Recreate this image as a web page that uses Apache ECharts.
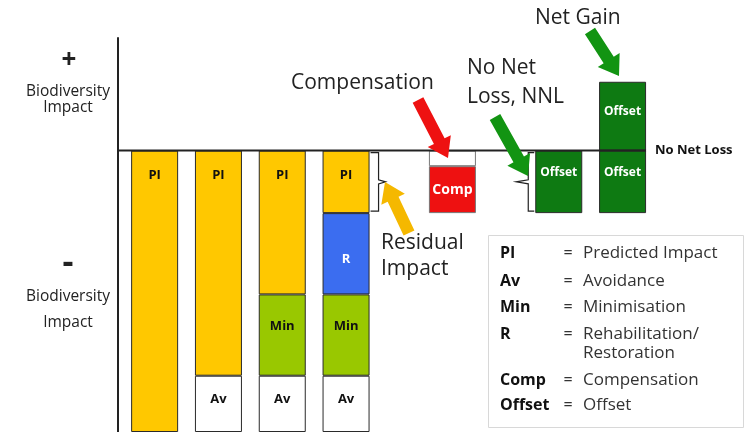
<!DOCTYPE html>
<html><head><meta charset="utf-8">
<script src="https://cdn.jsdelivr.net/npm/echarts@6/dist/echarts.min.js"></script>
<style>html,body{margin:0;padding:0;background:#fff}#c{width:755px;height:432px}</style>
</head><body><div id="c"></div>
<script>
// Stages of the mitigation hierarchy
const stages = ['Predicted Impact','Avoidance','Minimisation','Rehabilitation','Compensation','No Net Loss','Net Gain'];
// Category slots (blank strings are spacers between stages)
const categories = ['Predicted Impact','','','Avoidance','','','Minimisation','','','Rehabilitation','','','','','Compensation','','','','','No Net Loss','','','Net Gain'];
// Values per stage (negative = biodiversity loss)
const predictedImpact = [-45,-36,-23,-10,null,null,null];
const restoration     = [null,null,null,-13,null,null,null];
const minimisation    = [null,null,-13,-13,null,null,null];
const avoidance       = [null,-9,-9,-9,null,null,null];
const compensationGap = [null,null,null,null,-2.5,null,null];
const compensation    = [null,null,null,null,-7.5,null,null];
const offsetLoss      = [null,null,null,null,null,-10,-10];
const offsetGain      = [null,null,null,null,null,null,11];
const yMin = -45, yMax = 18;
const legendKeys  = ['PI','Av','Min','R','Comp','Offset'];
const legendDescs = ['Predicted Impact','Avoidance','Minimisation','Rehabilitation/\nRestoration','Compensation','Offset'];

const FONT = "'Open Sans', 'Noto Sans', sans-serif";
function toSlots(arr){ return categories.map(c => { const i = stages.indexOf(c); return i >= 0 ? arr[i] : null; }); }

const chart = echarts.init(document.getElementById('c'), null, {renderer:'canvas'});
const border = {borderColor:'#2a2a2a', borderWidth:1};
function lab(text, color, pos, dist, size, extra){
  return Object.assign({show:true, formatter:text, position:pos, distance:dist, color:color,
    fontFamily:FONT, fontWeight:'bold', fontSize:size||13}, extra||{});
}
const BW = 47;
function bar(name, arr, style, label, w){
  const o = {name:name, type:'bar', stack:'s', clip:false, barWidth:w||BW, barMinWidth:w||BW, barMaxWidth:w||BW,
    data:toSlots(arr), itemStyle:style};
  if (label) o.label = label;
  return o;
}
const option = {
  animation:false,
  backgroundColor:'#fff',
  grid:{left:144, right:121.8, top:38, bottom:0},
  xAxis:{type:'category', data:categories, axisLine:{show:false}, axisTick:{show:false}, axisLabel:{show:false}, splitLine:{show:false}},
  yAxis:{type:'value', min:yMin, max:yMax, offset:26,
    axisLine:{show:true, onZero:false, lineStyle:{color:'#222', width:2}},
    axisTick:{show:false}, axisLabel:{show:false}, splitLine:{show:false}},
  series:[
    bar('PI', predictedImpact, Object.assign({color:'#FFC800'}, border), lab('PI','#111','insideTop',18)),
    bar('R', restoration, Object.assign({color:'#3B6DF0'}, border), lab('R','#fff','insideTop',40)),
    bar('Min', minimisation, Object.assign({color:'#99C800'}, border), lab('Min','#111','insideTop',25)),
    bar('Av', avoidance, Object.assign({color:'#ffffff'}, border), lab('Av','#111','insideTop',17)),
    bar('CompGap', compensationGap, {color:'#ffffff', borderColor:'#777', borderWidth:1}, null, 53),
    bar('Comp', compensation, {color:'#EE1111', borderColor:'#777', borderWidth:1}, lab('Comp','#fff','inside',0,14), 53),
    bar('OffsetLoss', offsetLoss, Object.assign({color:'#0E7A12'}, border), lab('Offset','#fff','insideTop',16,12)),
    bar('OffsetGain', offsetGain, Object.assign({color:'#0E7A12'}, border), lab('Offset','#fff','inside',0,12,{offset:[0,-5]}))
  ]
};
chart.setOption(option);

// ---------- annotations ----------
function arrow(tx,ty,px,py,sw,hw,hl,color){
  const dx=px-tx, dy=py-ty, L=Math.hypot(dx,dy), ux=dx/L, uy=dy/L, nx=-uy, ny=ux;
  const bx=px-ux*hl, by=py-uy*hl;
  return {type:'polygon', z:10, shape:{points:[
    [tx+nx*sw/2,ty+ny*sw/2],[bx+nx*sw/2,by+ny*sw/2],[bx+nx*hw/2,by+ny*hw/2],[px,py],
    [bx-nx*hw/2,by-ny*hw/2],[bx-nx*sw/2,by-ny*sw/2],[tx-nx*sw/2,ty-ny*sw/2]]}, style:{fill:color}};
}
function txt(t,x,y,size,opts){
  return {type:'text', z:10, x:x, y:y, style:{text:t, font:(opts&&opts.bold?'bold ':'')+size+'px '+FONT,
    fill:(opts&&opts.fill)||'#222', align:(opts&&opts.align)||'left', verticalAlign:'middle'}};
}
const px = (i,v) => chart.convertToPixel({gridIndex:0}, [i,v]);
const iRehab = categories.indexOf('Rehabilitation');
const iNNL = categories.indexOf('No Net Loss');
const iGain = categories.indexOf('Net Gain');
const zero = px(0,0)[1];
const yAxisX = 144 - 26;
const gainRight = px(iGain,0)[0] + BW/2;
const g = [];
// zero line (No Net Loss baseline)
g.push({type:'line', z:5, shape:{x1:yAxisX, y1:zero, x2:gainRight, y2:zero}, style:{stroke:'#222', lineWidth:2}});
// residual brace
{
  const right = px(iRehab,0)[0] + BW/2;
  const yb = px(iRehab, predictedImpact[3])[1];
  const x0 = right + 1, x1 = right + 9, ym = (zero+yb)/2;
  g.push({type:'polyline', z:10, shape:{points:[[x0,zero+2],[x1,zero+2],[x1,ym-2],[x1+7,ym],[x1,ym+2],[x1,yb-2],[x0,yb-2]]}, style:{stroke:'#222', lineWidth:1.2, fill:null}});
}
// NNL brace
{
  const left = px(iNNL,0)[0] - BW/2;
  const yb = px(iNNL, offsetLoss[5])[1];
  const x0 = left - 1, x1 = left - 7, ym = (zero+yb)/2;
  g.push({type:'polyline', z:10, shape:{points:[[x0,zero+2],[x1,zero+2],[x1,ym-2],[x1-12,ym],[x1,ym+2],[x1,yb-2],[x0,yb-2]]}, style:{stroke:'#222', lineWidth:1.2, fill:null}});
}
// arrows
g.push(arrow(418,100,448,158,12,26,19,'#EE1111'));
g.push(arrow(495,117,528,176,12,26,19,'#129412'));
g.push(arrow(590,31,619,76,12,26,19,'#129412'));
g.push(arrow(409,233,385,182,12,26,19,'#F5B800'));
// left axis labels
g.push(txt('+',69,61,26,{bold:true,align:'center'}));
g.push(txt('Biodiversity',68,92,15.5,{align:'center'}));
g.push(txt('Impact',68,108,15.5,{align:'center'}));
g.push(txt('-',68,263,34,{bold:true,align:'center'}));
g.push(txt('Biodiversity',68,297,15.5,{align:'center'}));
g.push(txt('Impact',68,323,15.5,{align:'center'}));
// callouts
g.push(txt('Compensation',291,83,21));
g.push(txt('No Net',467,68,21));
g.push(txt('Loss, NNL',467,97,21));
g.push(txt('Net Gain',535,18,21));
g.push(txt('Residual',381,243,21));
g.push(txt('Impact',381,269,21));
g.push(txt('No Net Loss',655,150,13,{bold:true,fill:'#111'}));
// legend box
g.push({type:'rect', z:9, shape:{x:488.5,y:235.5,width:255,height:192}, style:{fill:'#fff', stroke:'#d8d8d8', lineWidth:1}});
const rowY = [253,281,307,334,380,405];
legendKeys.forEach((k,i) => {
  g.push(txt(k,500,rowY[i],16,{bold:true,fill:'#111'}));
  g.push(txt('=',568,rowY[i],16,{align:'center',fill:'#333'}));
  const parts = legendDescs[i].split('\n');
  parts.forEach((p,j) => g.push(txt(p,583,rowY[i]+j*19,17,{fill:'#333'})));
});
chart.setOption({graphic:{elements:g}});
</script>
</body></html>
